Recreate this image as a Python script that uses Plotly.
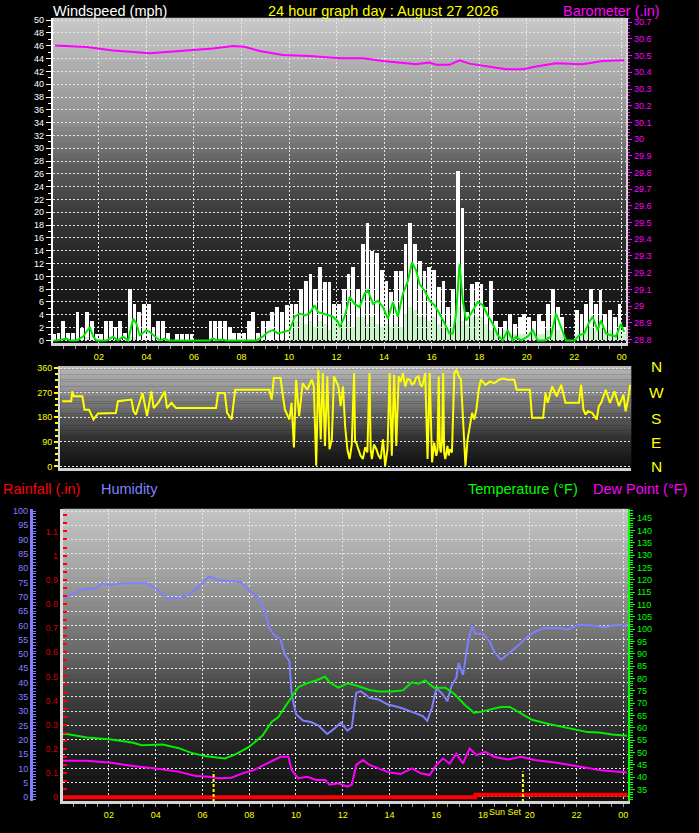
import numpy as np
import plotly.graph_objects as go

# ---------------- data ----------------
hour_tick_vals = [2, 4, 6, 8, 10, 12, 14, 16, 18, 20, 22, 24]
hour_tick_text = ["02", "04", "06", "08", "10", "12", "14", "16", "18", "20", "22", "00"]

# gust / speed samples every 0.2 h starting at 00:06
sample_start_hour = 0.1
sample_step_hour = 0.2
wind_gust_mph = [
    1.0, 1.1, 3.1, 1.1, 1.1, 4.4, 2.0, 4.4, 3.1, 1.0,
    1.0, 3.1, 3.1, 2.1, 3.1, 1.1, 8.0, 5.7, 4.4, 5.7,
    5.7, 2.1, 3.1, 3.1, 1.1, 0.0, 1.0, 1.0, 1.0, 1.0,
    0.0, 0.0, 0.0, 3.1, 3.1, 3.1, 3.1, 2.1, 1.1, 1.1,
    1.1, 3.1, 4.4, 1.1, 3.1, 3.1, 4.4, 5.2, 4.4, 5.5,
    5.7, 5.7, 8.0, 9.3, 10.4, 8.0, 11.4, 9.1, 9.1, 5.7,
    5.7, 8.0, 10.4, 11.4, 8.0, 15.0, 18.4, 14.0, 13.7, 11.0,
    9.3, 7.5, 10.9, 10.9, 15.0, 18.4, 15.0, 12.4, 10.9, 11.4,
    11.0, 8.3, 9.3, 5.2, 8.0, 26.4, 20.7, 4.4, 8.8, 9.1,
    8.8, 5.2, 9.3, 3.1, 2.1, 3.1, 4.2, 2.6, 3.7, 4.2,
    3.7, 3.1, 4.2, 3.1, 5.7, 8.0, 5.2, 3.7, 0.0, 0.0,
    4.7, 4.2, 5.7, 8.0, 5.7, 7.8, 4.2, 4.7, 3.7, 5.7,
    2.1,
]
wind_speed_mph = [
    0, 0, 0, 0, 0, 0, 0, 0.5, 0, 0,
    0, 0, 0, 0, 0, 0, 0.5, 0.5, 0, 0,
    0, 0, 0, 0, 0, 0, 0, 0, 0, 0,
    0, 0, 0, 0, 0, 0, 0, 0, 0, 0,
    0, 0, 0, 0, 0, 0, 0, 0, 0, 0,
    1.6, 3.0, 3.7, 2.6, 3.1, 2.1, 3.1, 2.6, 1.6, 3.7,
    2.1, 2.6, 3.1, 2.1, 3.7, 3.7, 2.6, 3.7, 2.6, 2.1,
    2.6, 2.1, 2.6, 2.1, 4.2, 5.2, 4.7, 3.7, 3.7, 3.1,
    3.7, 2.6, 2.1, 1.6, 2.1, 5.2, 3.1, 2.6, 3.7, 3.7,
    3.7, 2.6, 1.6, 1.6, 1.0, 1.6, 1.0, 1.0, 1.0, 1.0,
    1.0, 1.6, 1.0, 1.0, 1.6, 2.1, 1.6, 1.0, 0, 0,
    1.0, 1.6, 1.6, 2.1, 1.6, 2.1, 1.6, 1.6, 1.0, 1.6,
    1.0,
]

wind_avg_hours = [
    0.10, 0.22, 0.64, 0.78, 1.06, 1.34, 1.62, 1.76, 1.90, 2.32,
    2.60, 2.81, 3.02, 3.23, 3.44, 3.58, 3.72, 4.00, 4.14, 4.35,
    4.56, 4.77, 4.91, 6.66, 6.80, 6.94, 7.22, 7.36, 8.62, 8.90,
    9.11, 9.32, 9.53, 9.74, 10.03, 10.24, 10.45, 10.66, 10.86, 11.07,
    11.22, 11.43, 11.64, 11.85, 12.06, 12.13, 12.34, 12.55, 12.76, 12.97,
    13.18, 13.32, 13.53, 13.74, 13.95, 14.16, 14.37, 14.58, 14.79, 15.00,
    15.17, 15.35, 15.49, 15.70, 15.91, 16.12, 16.33, 16.54, 16.75, 16.89,
    17.03, 17.17, 17.31, 17.45, 17.66, 17.94, 18.15, 18.36, 18.57, 18.78,
    18.99, 19.20, 19.41, 19.55, 19.76, 20.04, 20.25, 20.46, 20.74, 21.02,
    21.23, 21.44, 21.65, 22.00, 22.21, 22.42, 22.63, 22.77, 22.98, 23.12,
    23.33, 23.54, 23.75, 23.96, 24.10,
]
wind_avg_mph = [
    0, 0, 0.3, 0, 0, 0.6, 2.1, 0.6, 0, 0,
    0.6, 0, 0.6, 0, 3.4, 2.6, 0.8, 1.6, 1.3, 0.6,
    0, 0.3, 0, 0, 0.3, 0, 0.15, 0, 0, 0.6,
    1.3, 1.6, 1.1, 1.3, 1.6, 3.7, 4.2, 3.9, 4.2, 5.5,
    4.4, 4.2, 3.9, 3.7, 2.9, 2.1, 3.7, 6.8, 5.7, 5.2,
    7.3, 7.8, 5.7, 6.2, 5.2, 3.4, 6.0, 3.7, 7.3, 9.3,
    12.2, 10.9, 8.8, 7.8, 6.2, 5.5, 4.2, 2.6, 1.1, 1.1,
    4.2, 11.9, 6.2, 3.1, 4.2, 6.0, 5.5, 3.9, 2.6, 0.8,
    0, 1.6, 0, 0.6, 0, 0.6, 1.6, 0, 0, 0.6,
    4.2, 2.1, 0, 0, 0.8, 1.1, 2.9, 3.7, 1.6, 3.1,
    1.1, 0.8, 0.6, 2.6, 1.3,
]

baro_hours = [0.15, 1.48, 2.6, 3.72, 4.14, 5.4, 6.8, 7.64, 8.13, 8.76,
              9.74, 10.87, 12.13, 12.55, 13.1, 13.95, 15.35, 15.9, 16.19, 16.75,
              17.17, 17.59, 18.43, 19.13, 19.83, 20.39, 21.23, 21.79, 22.35, 23.19,
              24.1]
baro_inhg = [30.561, 30.551, 30.531, 30.518, 30.514, 30.528, 30.543, 30.557, 30.553, 30.528,
             30.504, 30.498, 30.484, 30.484, 30.484, 30.468, 30.448, 30.458, 30.445, 30.445,
             30.472, 30.452, 30.435, 30.419, 30.419, 30.435, 30.454, 30.452, 30.448, 30.468,
             30.472]

dir_hours = [
    0.16, 0.54, 0.58, 0.65, 1.01, 1.10, 1.29, 1.48, 1.67, 2.42,
    2.51, 3.08, 3.17, 3.27, 3.55, 3.74, 3.92, 4.02, 4.21, 4.49,
    4.58, 4.77, 4.96, 6.65, 6.74, 7.02, 7.12, 7.31, 7.46, 8.90,
    9.00, 9.09, 9.37, 9.47, 9.56, 9.75, 9.84, 9.94, 10.03, 10.16,
    10.31, 10.50, 10.69, 10.78, 10.88, 10.97, 11.07, 11.16, 11.25, 11.35,
    11.44, 11.54, 11.63, 11.82, 11.91, 12.01, 12.10, 12.20, 12.29, 12.38,
    12.48, 12.52, 12.57, 12.66, 12.75, 12.85, 12.95, 13.04, 13.13, 13.18,
    13.23, 13.32, 13.42, 13.51, 13.60, 13.70, 13.79, 13.89, 13.98, 14.07,
    14.17, 14.26, 14.36, 14.45, 14.54, 14.64, 14.73, 14.83, 14.92, 15.01,
    15.10, 15.20, 15.27, 15.35, 15.48, 15.58, 15.67, 15.77, 15.86, 15.95,
    16.00, 16.05, 16.10, 16.14, 16.19, 16.24, 16.28, 16.33, 16.42, 16.47,
    16.52, 16.61, 16.71, 16.80, 16.90, 16.99, 17.08, 17.18, 17.27, 17.36,
    17.46, 17.55, 17.64, 17.74, 17.83, 18.02, 18.21, 18.40, 18.59, 18.77,
    18.96, 19.24, 19.34, 19.90, 19.99, 20.46, 20.56, 20.65, 20.84, 21.03,
    21.22, 21.40, 21.97, 22.06, 22.16, 22.25, 22.35, 22.53, 22.72, 22.81,
    22.91, 23.10, 23.28, 23.47, 23.66, 23.85, 23.94, 24.04, 24.13,
]
dir_deg = [
    239, 239, 275, 257, 257, 208, 208, 172, 194, 196,
    239, 245, 202, 190, 269, 184, 275, 214, 233, 275,
    214, 233, 214, 214, 269, 269, 196, 172, 281, 281,
    245, 324, 324, 257, 208, 172, 233, 69, 318, 184,
    305, 281, 318, 293, 2, 354, 99, 342, 75, 330,
    63, 99, 330, 293, 221, 293, 148, 60, 27, 80,
    342, 90, 87, 63, 40, 27, 70, 51, 342, 60,
    27, 80, 63, 40, 27, 99, 2, 63, 342, 39,
    336, 75, 330, 310, 342, 293, 320, 318, 300, 305,
    325, 330, 300, 293, 342, 27, 342, 15, 87, 39,
    60, 330, 70, 51, 90, 342, 50, 27, 75, 40,
    63, 51, 342, 354, 330, 318, 148, 2, 99, 148,
    196, 172, 208, 281, 318, 299, 311, 305, 318, 322,
    318, 318, 281, 281, 178, 178, 269, 233, 293, 257,
    299, 233, 233, 299, 208, 190, 202, 196, 172, 221,
    233, 281, 233, 275, 221, 263, 202, 245, 299,
]

hum_hours = [0.03, 0.2, 0.49, 0.96, 1.44, 1.72, 2.0, 2.49, 3.63, 4.0,
             4.49, 5.06, 5.53, 6.01, 6.29, 6.68, 7.34, 7.63, 8.0, 8.39,
             8.67, 8.87, 9.06, 9.34, 9.53, 9.72, 9.82, 10.0, 10.3, 10.67,
             10.96, 11.34, 11.63, 11.92, 12.2, 12.39, 12.58, 12.77, 13.15, 13.53,
             13.91, 14.48, 15.05, 15.43, 15.62, 15.82, 16.01, 16.29, 16.48, 16.67,
             16.86, 16.96, 17.15, 17.34, 17.53, 17.68, 18.0, 18.29, 18.48, 18.77,
             19.05, 19.53, 19.81, 20.2, 20.58, 21.34, 21.62, 22.1, 22.67, 23.24,
             23.72, 24.16]
hum_pct = [69.5, 70, 71.2, 72.7, 73, 74.7, 74, 74.7, 74.7, 73,
           69.5, 69.5, 71.2, 74.7, 77, 75.8, 75.5, 75.2, 72.3, 69.5,
           64.8, 59, 56.7, 55, 49.8, 47.5, 36, 29, 26.7, 26.1,
           25, 22, 23.8, 26, 23.2, 24.3, 36.4, 37, 34.7, 34.1,
           32.4, 31.2, 29.5, 28.3, 26.6, 31.2, 38.1, 35.8, 33.5, 39.3,
           41.6, 46.8, 42.7, 53.1, 60, 57.1, 57.1, 54.3, 50.8, 48,
           49.8, 53.1, 55.4, 57.7, 59, 59, 58.6, 60.2, 60, 59.3,
           60.2, 60]

temp_hours = [0.03, 0.2, 1.06, 2.1, 3.0, 3.4, 4.3, 4.96, 5.53, 6.1,
              6.96, 7.43, 8.0, 8.58, 8.96, 9.25, 9.53, 9.82, 10.1, 10.48,
              10.86, 11.25, 11.44, 11.82, 12.2, 12.58, 13.15, 13.53, 14.1, 14.58,
              14.96, 15.24, 15.53, 15.91, 16.39, 16.77, 17.24, 17.62, 17.91, 18.29,
              18.77, 19.15, 19.63, 20.1, 20.77, 21.43, 22.0, 22.48, 22.96, 23.53,
              24.16]
temp_f = [57.5, 57.5, 56.1, 55.3, 54.1, 53, 53.3, 51.9, 49.9, 48.6,
          47.6, 49.4, 52.3, 57, 62.4, 64.4, 68.5, 72.5, 76.5, 78.1,
          79.2, 80.8, 78.5, 76.3, 78.1, 77.2, 75.4, 74.8, 74.8, 75.2,
          78.5, 77.9, 79.2, 76.3, 76.3, 73.8, 69.2, 66.1, 66.5, 67.4,
          68.5, 68.5, 65.8, 63.3, 61.7, 60.4, 59.1, 58.3, 58.1, 57.3,
          56.8]

dew_hours = [0.03, 0.2, 1.06, 2.1, 3.0, 4.0, 4.96, 5.72, 6.29, 6.68,
             7.24, 7.72, 8.2, 8.77, 9.34, 9.68, 9.82, 10.1, 10.48, 10.86,
             11.25, 11.44, 11.82, 12.2, 12.39, 12.58, 12.87, 13.15, 13.53, 14.01,
             14.48, 14.96, 15.34, 15.72, 16.01, 16.29, 16.58, 16.86, 17.15, 17.43,
             17.72, 18.1, 18.48, 19.05, 19.63, 20.2, 21.15, 22.1, 23.05, 24.16]
dew_f = [46.7, 46.7, 46.7, 45.9, 44.6, 43.6, 42.3, 40.5, 40.2, 39.6,
         39.8, 41.6, 42.9, 45.6, 48.3, 48.3, 42.9, 39.6, 40.2, 38.9,
         38.9, 37, 37.6, 36.2, 37, 45, 47, 45, 43.6, 41.9,
         41.3, 43.6, 41.6, 40.9, 45, 47.6, 45.6, 49.6, 45.6, 51.7,
         49, 50.3, 48.3, 47.2, 48.3, 47, 45.9, 44.3, 42.9, 41.9]

rain_hours = [0.03, 17.68, 24.18]
rain_in = [0.0, 0.01, 0.01]

sunrise_hour = 6.48
sunset_hour = 19.71

# ---------------- figure ----------------
W, H = 699, 833
FONT = "Liberation Sans, Arial, sans-serif"
GRID = "#e6e6e6"
GDASH = "2px,2px"

def px_x(p):
    return p / W

def px_y(p):
    return 1 - p / H

sample_hours = np.round(sample_start_hour + sample_step_hour * np.arange(len(wind_gust_mph)), 2)

fig = go.Figure()
fig.add_trace(go.Bar(x=sample_hours, y=wind_gust_mph, width=0.16,
                     marker=dict(color="#ffffff", line=dict(width=0)), xaxis="x", yaxis="y"))
fig.add_trace(go.Bar(x=sample_hours, y=wind_speed_mph, width=0.16,
                     marker=dict(color="#ccf5cc", line=dict(width=0)), xaxis="x", yaxis="y"))
fig.add_trace(go.Scatter(x=wind_avg_hours, y=wind_avg_mph, mode="lines",
                         line=dict(color="#00e600", width=2), xaxis="x", yaxis="y"))
fig.add_trace(go.Scatter(x=baro_hours, y=baro_inhg, mode="lines",
                         line=dict(color="#ff00ff", width=2), xaxis="x", yaxis="y2"))
fig.add_trace(go.Scatter(x=dir_hours, y=dir_deg, mode="lines",
                         line=dict(color="#ffff00", width=2), xaxis="x2", yaxis="y3"))
fig.add_trace(go.Scatter(x=rain_hours, y=rain_in, mode="lines",
                         line=dict(color="#ff0000", width=4, shape="hv"), xaxis="x3", yaxis="y4"))
fig.add_trace(go.Scatter(x=hum_hours, y=hum_pct, mode="lines",
                         line=dict(color="#7f7fff", width=2), xaxis="x3", yaxis="y5"))
fig.add_trace(go.Scatter(x=temp_hours, y=temp_f, mode="lines",
                         line=dict(color="#00ee00", width=2), xaxis="x3", yaxis="y6"))
fig.add_trace(go.Scatter(x=dew_hours, y=dew_f, mode="lines",
                         line=dict(color="#ff00ff", width=2), xaxis="x3", yaxis="y6"))

# gradient backgrounds (style only)
def add_gradient(xref, yref, stops, n=60):
    ts = [s[0] for s in stops]
    gs = [s[1] for s in stops]
    for i in range(n):
        t0, t1 = i / n, (i + 1) / n
        g = int(round(np.interp((t0 + t1) / 2, ts, gs)))
        fig.add_shape(type="rect", xref=xref, yref=yref, x0=0, x1=1,
                      y0=max(0, 1 - t1 - 0.003), y1=1 - t0,
                      fillcolor=f"rgb({g},{g},{g})", line=dict(width=0), layer="below")

add_gradient("x domain", "y domain", [(0, 200), (0.15, 175), (0.32, 142), (0.45, 95), (0.6, 58), (0.8, 30), (1.0, 16)])
add_gradient("x2 domain", "y3 domain", [(0, 185), (0.25, 145), (0.5, 92), (0.75, 44), (1.0, 16)])
add_gradient("x3 domain", "y4 domain", [(0, 196), (0.2, 166), (0.48, 106), (0.65, 62), (0.85, 30), (1.0, 16)])

# sunrise / sunset markers
for h in (sunrise_hour, sunset_hour):
    fig.add_shape(type="line", xref="x3", yref="y4", x0=h, x1=h, y0=-0.02, y1=0.107,
                  line=dict(color="#ffff00", width=2, dash="3px,2px"))

xcommon = dict(tickmode="array", tickvals=hour_tick_vals, ticktext=hour_tick_text,
               tickfont=dict(color="#ffff00", size=9, family=FONT),
               showgrid=True, gridcolor=GRID, griddash=GDASH, gridwidth=1,
               showline=True, linecolor="#d4d4d4", linewidth=3,
               ticks="outside", tickcolor="#9a9a9a", ticklen=3, tickwidth=1,
               minor=dict(tickmode="linear", tick0=0, dtick=0.5, ticks="outside",
                          ticklen=3, tickcolor="#9a9a9a", showgrid=False),
               zeroline=False, fixedrange=True)

fig.update_layout(
    width=W, height=H, margin=dict(l=0, r=0, t=0, b=0),
    paper_bgcolor="#000000", plot_bgcolor="#000000",
    showlegend=False, barmode="overlay", bargap=0, hovermode=False,
    font=dict(family=FONT, size=9, color="#ffffff"),
    xaxis=dict(domain=[px_x(53), px_x(627)], range=[0.067, 24.18], anchor="y", **xcommon),
    yaxis=dict(domain=[px_y(343), px_y(15)], range=[-0.42, 50.36], anchor="x",
               tickmode="linear", tick0=0, dtick=2,
               tickfont=dict(color="#ffffff", size=9, family=FONT),
               showgrid=True, gridcolor=GRID, griddash=GDASH, zeroline=False,
               showline=True, linecolor="#ffffff", linewidth=2,
               ticks="outside", tickcolor="#ffffff", ticklen=5,
               minor=dict(dtick=1, ticks="outside", ticklen=3, tickcolor="#ffffff", showgrid=False)),
    yaxis2=dict(overlaying="y", side="right", anchor="x", range=[28.778, 30.726],
                tickmode="linear", tick0=28.8, dtick=0.1,
                tickfont=dict(color="#ff00ff", size=9, family=FONT),
                showgrid=False, zeroline=False,
                showline=True, linecolor="#d4d4d4", linewidth=2,
                ticks="outside", tickcolor="#ff00ff", ticklen=4,
                minor=dict(dtick=0.02, ticks="outside", ticklen=2, tickcolor="#ff00ff")),
    xaxis2=dict(domain=[px_x(60.2), px_x(632.2)], range=[0.07, 24.18], anchor="y3",
                showticklabels=False, showgrid=False, zeroline=False, ticks="",
                showline=True, linecolor="#d4d4d4", linewidth=3),
    yaxis3=dict(domain=[px_y(468.7), px_y(366)], range=[-5.1, 368.4], anchor="x2",
                tickmode="array", tickvals=[0, 90, 180, 270, 360],
                tickfont=dict(color="#ffff00", size=9, family=FONT),
                showgrid=True, gridcolor=GRID, griddash=GDASH, zeroline=False,
                showline=True, linecolor="#d4d4d4", linewidth=2,
                ticks="outside", tickcolor="#ffff00", ticklen=4, tickwidth=2,
                minor=dict(tickmode="linear", tick0=0, dtick=22.5, ticks="outside",
                           ticklen=3, tickcolor="#ffff00", showgrid=False)),
    xaxis3=dict(domain=[px_x(63), px_x(629)], range=[0.034, 24.21], anchor="y4", **xcommon),
    yaxis4=dict(domain=[px_y(805), px_y(510)], range=[-0.0164, 1.194], anchor="x3",
                tickmode="linear", tick0=0, dtick=0.1,
                tickfont=dict(color="#d00000", size=9, family=FONT),
                showgrid=False, zeroline=False,
                showline=True, linecolor="#dcdcdc", linewidth=3,
                ticks="inside", tickcolor="#ff0000", ticklen=4, tickwidth=2,
                minor=dict(dtick=0.1 / 3, ticks="inside", ticklen=4, tickwidth=2, tickcolor="#ff0000")),
    yaxis5=dict(overlaying="y4", anchor="free", position=px_x(31), side="left",
                range=[-1.5, 100.8], tickmode="linear", tick0=0, dtick=5,
                tickfont=dict(color="#8080ff", size=9, family=FONT),
                showgrid=True, gridcolor=GRID, griddash=GDASH, zeroline=False,
                showline=True, linecolor="#8080ff", linewidth=3,
                ticks="inside", tickcolor="#8080ff", ticklen=3,
                minor=dict(dtick=1, ticks="inside", ticklen=3, tickcolor="#8080ff")),
    yaxis6=dict(overlaying="y4", side="right", anchor="x3", range=[30.3, 148.8],
                tickmode="linear", tick0=0, dtick=5,
                tickfont=dict(color="#00ff00", size=9, family=FONT),
                showgrid=False, zeroline=False,
                showline=True, linecolor="#00ff00", linewidth=2,
                ticks="outside", tickcolor="#00ff00", ticklen=5,
                minor=dict(dtick=1, ticks="outside", ticklen=3, tickcolor="#00ff00")),
)

def label(text, x, y, color, size=14.5, xanchor="left", xref="paper"):
    fig.add_annotation(text=text, x=x, y=y, xref=xref, yref="paper", showarrow=False,
                       xanchor=xanchor, yanchor="middle",
                       font=dict(color=color, size=size, family=FONT))

label("Windspeed (mph)", px_x(51), px_y(8), "#ffffff")
label("24 hour graph day : August 27 2026", px_x(384.5), px_y(8), "#ffff00", xanchor="center")
label("Barometer (.in)", px_x(663), px_y(8), "#ff00ff", xanchor="right")
for letter, ypx in zip(["N", "W", "S", "E", "N"], [367, 393, 419, 443, 467]):
    label(letter, px_x(657), px_y(ypx), "#ffff00", size=15.5, xanchor="center")
label("Rainfall (.in)", px_x(1), px_y(490.5), "#ff0000")
label("Humidity", px_x(99), px_y(490.5), "#8080ff")
label("Temperature (°F)", px_x(467), px_y(490.5), "#00ff00")
label("Dew Point (°F)", px_x(592), px_y(490.5), "#ff00ff")
# "Sun Set" sits just left of the "20" hour label
label("Sun Set", sunset_hour + 0.05, px_y(816), "#ffff00", size=9, xanchor="right", xref="x3")

fig.write_html("out.html", config={"displayModeBar": False, "staticPlot": True},
               post_script="document.body.style.margin='0';document.body.style.overflow='hidden';")
